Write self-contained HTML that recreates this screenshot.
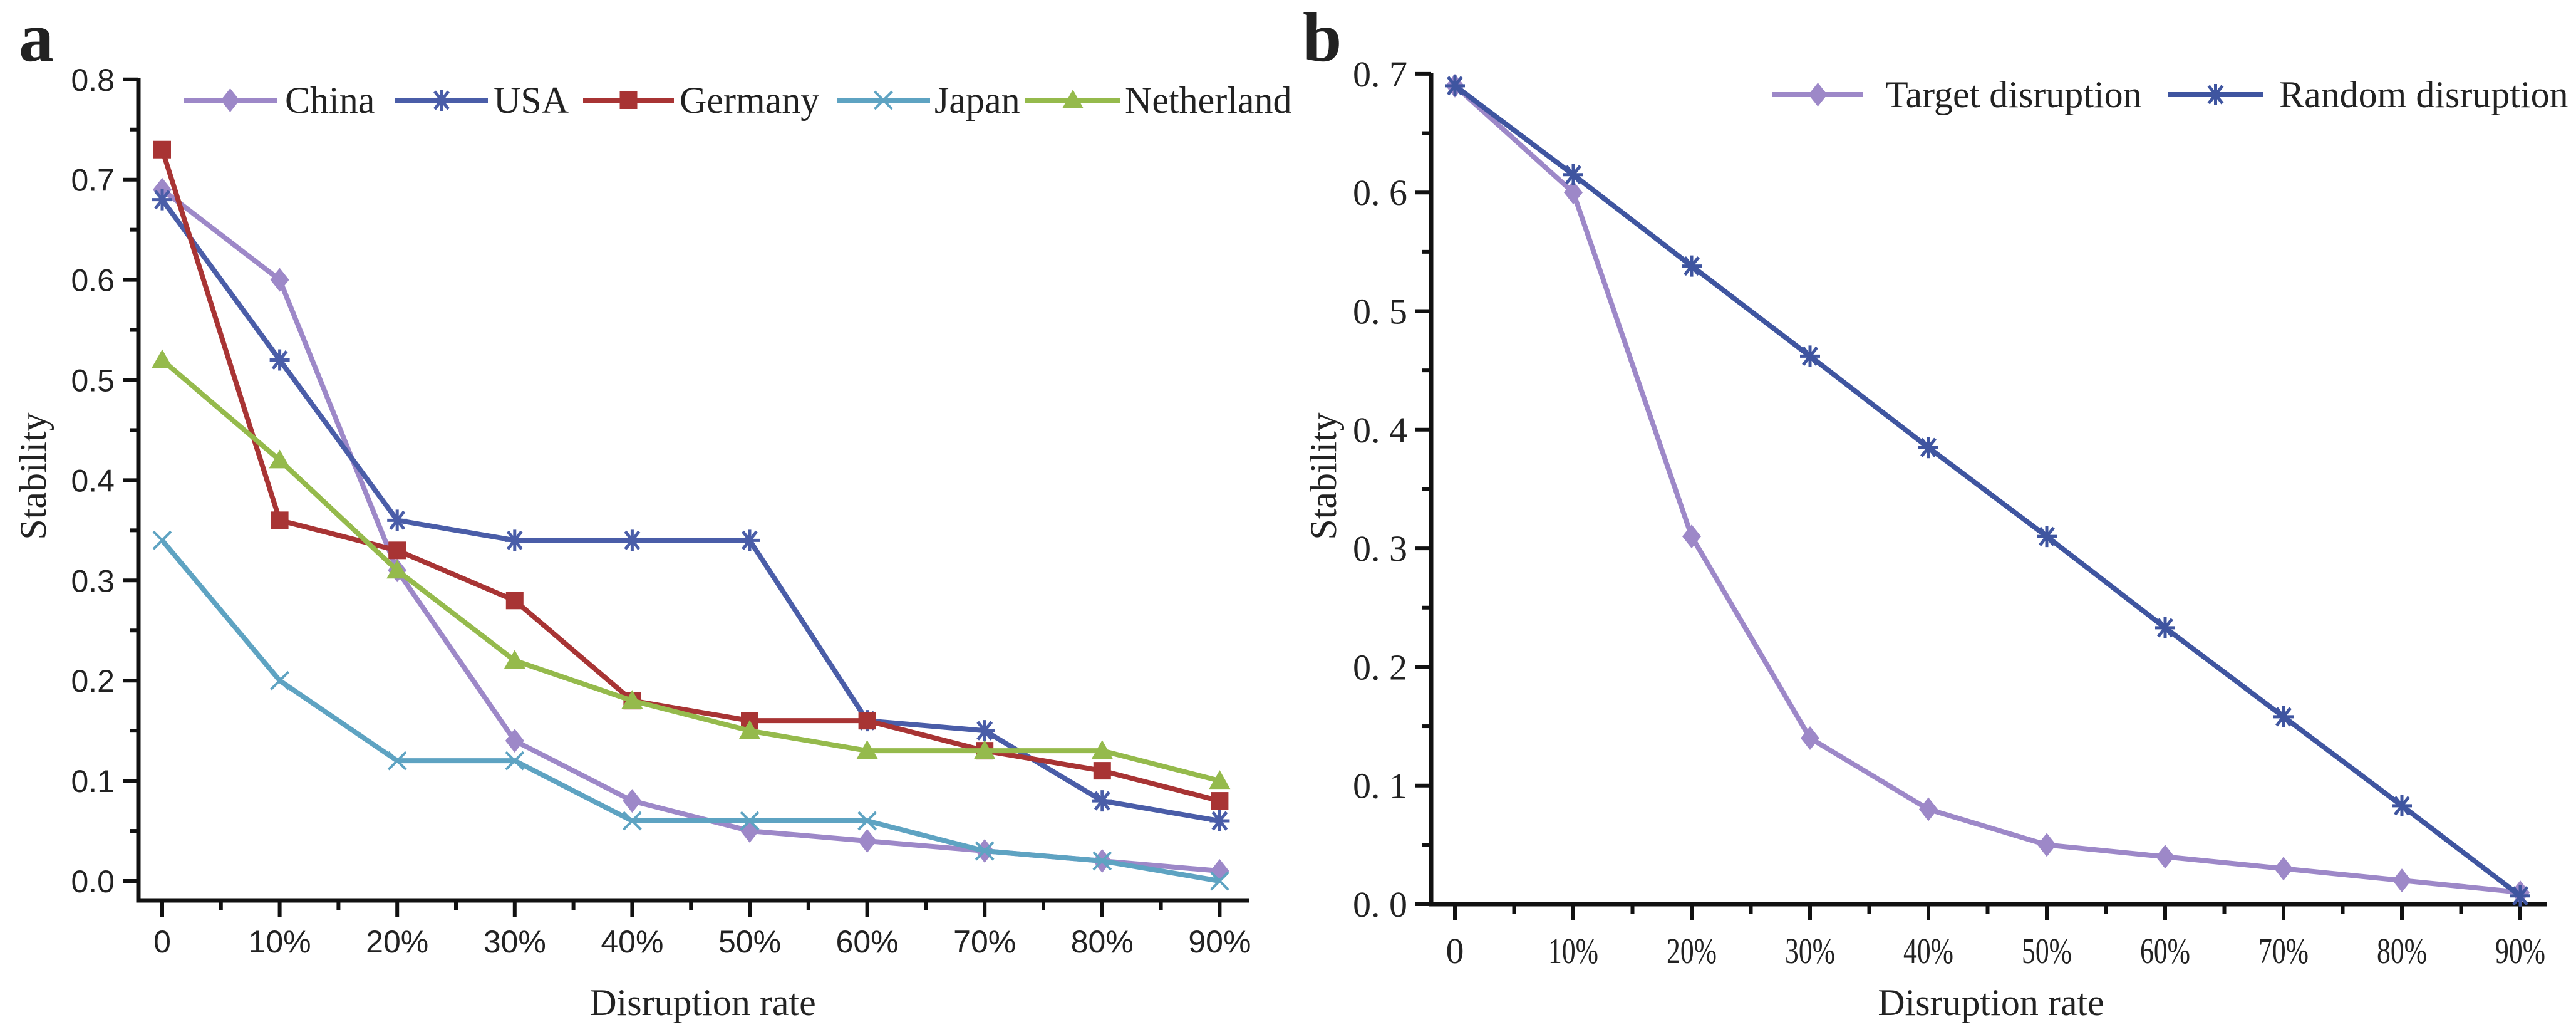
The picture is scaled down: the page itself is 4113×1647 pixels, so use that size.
<!DOCTYPE html>
<html><head><meta charset="utf-8"><style>
html,body{margin:0;padding:0;background:#fff;}
svg{display:block;}
</style></head><body>
<svg id="chart" width="4113" height="1647" viewBox="0 0 4113 1647" xmlns="http://www.w3.org/2000/svg">
<rect width="4113" height="1647" fill="#fff"/>
<g id="pa"></g>
<g id="pb"></g>
</svg>
<script>
const categories = ["0","10%","20%","30%","40%","50%","60%","70%","80%","90%"];
const chinaVals = [0.69,0.60,0.31,0.14,0.08,0.05,0.04,0.03,0.02,0.01];
const usaVals = [0.68,0.52,0.36,0.34,0.34,0.34,0.16,0.15,0.08,0.06];
const germanyVals = [0.73,0.36,0.33,0.28,0.18,0.16,0.16,0.13,0.11,0.08];
const japanVals = [0.34,0.20,0.12,0.12,0.06,0.06,0.06,0.03,0.02,0.00];
const netherlandVals = [0.52,0.42,0.31,0.22,0.18,0.15,0.13,0.13,0.13,0.10];
const aTicks = ["0.0","0.1","0.2","0.3","0.4","0.5","0.6","0.7","0.8"];
const targetVals = [0.69,0.60,0.31,0.14,0.08,0.05,0.04,0.03,0.02,0.01];
const randomVals = [0.69,0.615,0.538,0.462,0.385,0.31,0.233,0.158,0.083,0.007];
const bTicks = ["0. 0","0. 1","0. 2","0. 3","0. 4","0. 5","0. 6","0. 7"];

const NS="http://www.w3.org/2000/svg";
function mk(parent,tag,attrs,text){const e=document.createElementNS(NS,tag);for(const k in attrs)e.setAttribute(k,attrs[k]);if(text!==undefined)e.textContent=text;parent.appendChild(e);return e;}

function marker(g,type,x,y,color){
  let m;
  if(type==="diamond"){m=mk(g,"polygon",{points:`${x},${y-19} ${x+15},${y} ${x},${y+19} ${x-15},${y}`,fill:color});}
  else if(type==="square"){m=mk(g,"rect",{x:x-14,y:y-14,width:28,height:28,fill:color});}
  else if(type==="triangle"){m=mk(g,"polygon",{points:`${x},${y-17} ${x+17},${y+13} ${x-17},${y+13}`,fill:color});}
  else if(type==="star"){m=mk(g,"path",{d:`M${x-16},${y}H${x+16}M${x-11},${y-14}L${x+11},${y+14}M${x+11},${y-14}L${x-11},${y+14}M${x},${y-17}V${y+17}`,stroke:color,"stroke-width":5,fill:"none"});}
  else {m=mk(g,"path",{d:`M${x-14},${y-14}L${x+14},${y+14}M${x+14},${y-14}L${x-14},${y+14}`,stroke:color,"stroke-width":4,fill:"none"});}
  return m;
}

function panel(g,cfg){
  const X=i=>cfg.x0+i*cfg.dx;
  const Y=v=>cfg.y0-v*cfg.dy;
  // axes
  const ax=mk(g,"path",{d:`M${cfg.ax},${cfg.axTop}V${cfg.axBottom}H${cfg.axRight}`,stroke:"#111","stroke-width":7,fill:"none"});
  
  
  // y ticks
  cfg.yTicks.forEach((t,i)=>{
    const y=Y(i*0.1);
    mk(g,"line",{x1:cfg.ax-25,x2:cfg.ax,y1:y,y2:y,stroke:"#111","stroke-width":6});
    if(i<cfg.yTicks.length-1){const ym=Y(i*0.1+0.05);mk(g,"line",{x1:cfg.ax-14,x2:cfg.ax,y1:ym,y2:ym,stroke:"#111","stroke-width":6});}
    const tx=mk(g,"text",{x:cfg.ax-38,y:y+cfg.yLabOff,"text-anchor":"end","font-family":cfg.tickFont,"font-size":cfg.tickSize,fill:"#222"},t);
    
    
  });
  categories.forEach((c,i)=>{
    const x=X(i);
    mk(g,"line",{x1:x,x2:x,y1:cfg.axBottom,y2:cfg.axBottom+26,stroke:"#111","stroke-width":6});
    if(i<categories.length-1){const xm=X(i+0.5);mk(g,"line",{x1:xm,x2:xm,y1:cfg.axBottom,y2:cfg.axBottom+15,stroke:"#111","stroke-width":6});}
    const tx=mk(g,"text",{x:x,y:cfg.xLabY,"text-anchor":"middle","font-family":cfg.tickFont,"font-size":cfg.tickSize,fill:"#222"},c);
    if(cfg.condense && c.length>1){tx.setAttribute("textLength",80);tx.setAttribute("lengthAdjust","spacingAndGlyphs");}
    
    
  });
  // series
  cfg.series.forEach(s=>{
    const sg=mk(g,"g",{});
    
    
    const pts=s.vals.map((v,i)=>`${X(i)},${Y(v)}`).join(" ");
    mk(sg,"polyline",{points:pts,fill:"none",stroke:s.color,"stroke-width":8,"stroke-linejoin":"round"});
    s.vals.forEach((v,i)=>{const m=marker(sg,s.m,X(i),Y(v),s.color);
      
      });
    // legend
    const lg=mk(g,"g",{});
    
    
    mk(lg,"line",{x1:s.lx1,x2:s.lx2,y1:cfg.legY,y2:cfg.legY,stroke:s.color,"stroke-width":8});
    marker(lg,s.m,(s.lx1+s.lx2)/2,cfg.legY,s.color);
    mk(lg,"text",{x:s.tx,y:cfg.legY+20,"font-family":"'Liberation Serif',serif","font-size":60,fill:"#222"},s.name);
  });
  const lt=mk(g,"text",{x:cfg.letterX,y:97,"font-family":"'Liberation Serif',serif","font-weight":"bold","font-size":112,fill:"#222"},cfg.letter);
  
  
  const xt=mk(g,"text",{x:cfg.xTitleX,y:1620,"text-anchor":"middle","font-family":"'Liberation Serif',serif","font-size":60,fill:"#222"},"Disruption rate");
  
  
  const yt=mk(g,"text",{x:0,y:0,"text-anchor":"middle","font-family":"'Liberation Serif',serif","font-size":60,fill:"#222",transform:`translate(${cfg.yTitleX},760) rotate(-90)`},"Stability");
  
  
}

panel(document.getElementById("pa"),{
  x0:259,dx:187.6,y0:1406,dy:1599,ax:221,axTop:125,axBottom:1437,axRight:1995,
  yTicks:aTicks,tickFont:"'Liberation Sans',sans-serif",tickSize:50,yLabOff:18,xLabY:1520,condense:false,
  legY:160,letter:"a",letterX:30,xTitleX:1122,yTitleX:73,
  series:[
    {name:"China",vals:chinaVals,color:"#9d88c8",m:"diamond",lx1:293,lx2:442,tx:455},
    {name:"USA",vals:usaVals,color:"#4a5da8",m:"star",lx1:631,lx2:779,tx:788},
    {name:"Germany",vals:germanyVals,color:"#a83434",m:"square",lx1:931,lx2:1076,tx:1085},
    {name:"Japan",vals:japanVals,color:"#5ea3c2",m:"x",lx1:1336,lx2:1485,tx:1492},
    {name:"Netherland",vals:netherlandVals,color:"#95ba4c",m:"triangle",lx1:1637,lx2:1789,tx:1796}
  ]
});
panel(document.getElementById("pb"),{
  x0:2323,dx:189,y0:1443,dy:1893,ax:2285,axTop:116,axBottom:1443,axRight:4066,
  yTicks:bTicks,tickFont:"'Liberation Serif',serif",tickSize:58,yLabOff:20,xLabY:1537,condense:true,
  legY:151,letter:"b",letterX:2080,xTitleX:3179,yTitleX:2133,
  series:[
    {name:"Target disruption",vals:targetVals,color:"#9d88c8",m:"diamond",lx1:2830,lx2:2975,tx:3010},
    {name:"Random disruption",vals:randomVals,color:"#3f55a0",m:"star",lx1:3462,lx2:3613,tx:3639}
  ]
});
</script>
</body></html>
